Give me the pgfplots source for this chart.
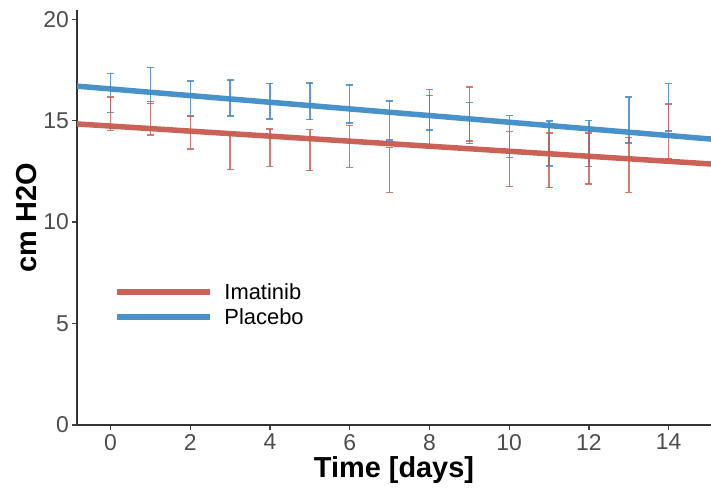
\documentclass[border=0pt]{standalone}
\usepackage{fontspec}
\setmainfont{Liberation Sans}
\usepackage{pgfplots}
\usepackage{pgfplotstable}
\pgfplotsset{compat=1.18}
\definecolor{imared}{RGB}{200,90,78}
\definecolor{plablue}{RGB}{62,140,201}
\definecolor{tickgray}{RGB}{77,77,77}

% day, centre of the error bar, half length
\pgfplotstableread{
x mid err
0 16.365 0.965
1 16.735 0.885
2 16.075 0.885
3 16.110 0.890
4 15.950 0.880
5 15.945 0.905
6 15.820 0.930
7 15.000 0.960
8 15.530 1.000
9 14.880 1.010
10 14.215 1.025
11 13.870 1.110
12 13.870 1.140
13 15.030 1.140
14 15.655 1.175
}\placebo

\pgfplotstableread{
x mid err
0 15.335 0.835
1 15.110 0.820
2 14.410 0.810
3 13.460 0.870
4 13.660 0.920
5 13.540 1.010
6 13.725 1.035
7 12.560 1.100
8 14.965 1.275
9 15.320 1.330
10 13.100 1.350
11 13.035 1.345
12 13.125 1.255
13 12.815 1.355
14 14.455 1.355
}\imatinib

\begin{document}
\begin{tikzpicture}
\begin{axis}[
    scale only axis,
    width=634bp,
    height=415bp,
    xmin=-0.84, xmax=15.06,
    ymin=0, ymax=20.45,
    axis lines=left,
    axis line style={-, draw=black!80, line width=1.5bp},
    xtick={0,2,...,14},
    ytick={0,5,...,20},
    tick align=outside,
    major tick length=5bp,
    tick style={draw=black!75, line width=1.2bp},
    /pgf/number format/assume math mode=true,
    ticklabel style={font=\fontsize{23}{23}\selectfont, text=tickgray},
    xticklabel style={anchor=north, inner sep=0pt, yshift=-4bp},
    yticklabel style={anchor=east, inner sep=0pt, xshift=-3bp},
    xlabel={Time [days]},
    ylabel={cm H2O},
    label style={font=\bfseries\fontsize{29}{29}\selectfont, text=black},
    xlabel style={at={(axis description cs:0.5,-0.1253)}, anchor=base},
    ylabel style={at={(axis description cs:-0.079,0.5)}, anchor=center},
    legend cell align=left,
    legend style={draw=none, fill=none, at={(axis description cs:0.058,0.347)}, anchor=north west,
        font=\fontsize{22}{22}\selectfont, row sep=4bp, column sep=10bp, inner sep=0pt},
    legend image code/.code={\draw[#1] (0bp,0bp) -- (93bp,0bp);},
]
\addplot[draw=none, no markers, forget plot,
    error bars/.cd, y dir=both, y explicit,
    error bar style={draw=plablue, opacity=0.85, line width=1.4bp},
    error mark options={draw=plablue, opacity=0.85, line width=1.4bp, mark size=3.5bp, rotate=90}]
    table[x=x, y=mid, y error=err] {\placebo};
\addplot[draw=none, no markers, forget plot,
    error bars/.cd, y dir=both, y explicit,
    error bar style={draw=imared, opacity=0.8, line width=1.4bp},
    error mark options={draw=imared, opacity=0.8, line width=1.4bp, mark size=3.5bp, rotate=90}]
    table[x=x, y=mid, y error=err] {\imatinib};
\addplot[imared, line width=5.5bp, opacity=0.95] coordinates {(-1,14.854) (16,12.746)};
\addlegendentry{Imatinib}
\addplot[plablue, line width=5.5bp, opacity=0.95] coordinates {(-1,16.724) (16,13.936)};
\addlegendentry{Placebo}
\end{axis}
\pgfresetboundingbox
\path ([xshift=-77bp,yshift=-67bp]current axis.south west) rectangle ([yshift=10bp]current axis.north east);
\end{tikzpicture}
\end{document}
